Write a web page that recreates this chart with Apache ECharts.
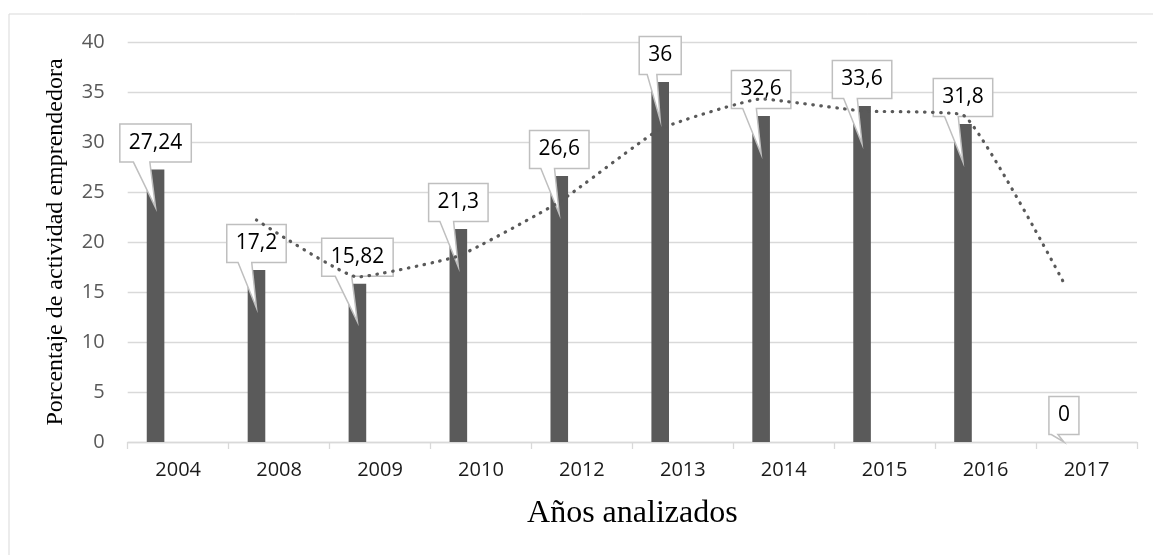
<!DOCTYPE html>
<html>
<head>
<meta charset="utf-8">
<script src="https://cdn.jsdelivr.net/npm/echarts@6/dist/echarts.min.js"></script>
<style>
html,body{margin:0;padding:0;background:#fff;}
#chart{width:1153px;height:555px;}
</style>
</head>
<body>
<div id="chart"></div>
<script>
// ---- data ----
var categories = ['2004','2008','2009','2010','2012','2013','2014','2015','2016','2017'];
var values = [27.24, 17.2, 15.82, 21.3, 26.6, 36, 32.6, 33.6, 31.8, 0];
// dotted trend line, null where it does not exist
var trend = [null, 22.2, 16.5, 18.6, 24.0, 31.3, 34.3, 33.1, 32.7, 15.9];
var yTicks = [0, 5, 10, 15, 20, 25, 30, 35, 40];
var yTitle = 'Porcentaje de actividad emprendedora';
var xTitle = 'Años analizados';

// ---- layout constants ----
var BAR_SHIFT = -0.224;   // bar sits left of the category centre (in category units)
var LABEL_FONT = "'Open Sans', sans-serif";
var LABEL_SIZE = 21;

function fmt(v){ return String(v).replace('.', ','); }

var measureCtx = document.createElement('canvas').getContext('2d');
function textWidth(t){
  measureCtx.font = LABEL_SIZE + 'px ' + LABEL_FONT;
  return measureCtx.measureText(t).width;
}

var barData = values.map(function(v,i){ return [i + BAR_SHIFT, v]; });
var trendData = [];
trend.forEach(function(v,i){ if (v !== null) trendData.push([i + BAR_SHIFT, v]); });

var chart = echarts.init(document.getElementById('chart'), null, {renderer:'canvas'});
chart.setOption({
  backgroundColor:'#ffffff',
  animation:false,
  graphic:[{
    type:'rect', left:8.5, top:13.5, z:-10,
    shape:{x:0,y:0,width:1170,height:570},
    style:{fill:'#ffffff', stroke:'#d9d9d9', lineWidth:1}
  }],
  grid:{left:127.7, right:16, top:42, bottom:113, containLabel:false},
  xAxis:[{
    type:'category', data:categories, boundaryGap:true,
    axisLine:{show:true, lineStyle:{color:'#d9d9d9', width:1.3}},
    axisTick:{show:true, length:7, lineStyle:{color:'#d9d9d9', width:1.3}},
    axisLabel:{color:'#1a1a1a', fontSize:20, fontFamily:LABEL_FONT, margin:18},
    splitLine:{show:false},
    name:xTitle, nameLocation:'middle', nameGap:56,
    nameTextStyle:{fontFamily:"'Liberation Serif', 'Times New Roman', serif", fontSize:32, color:'#000'}
  },{
    type:'value', min:-0.5, max:9.5, show:false
  }],
  yAxis:{
    type:'value', min:yTicks[0], max:yTicks[yTicks.length-1], interval:yTicks[1]-yTicks[0],
    axisLine:{show:false}, axisTick:{show:false},
    axisLabel:{color:'#595959', fontSize:20, fontFamily:LABEL_FONT, margin:23},
    splitLine:{lineStyle:{color:'#d9d9d9', width:1.3}},
    name:yTitle, nameLocation:'middle', nameGap:60, nameRotate:90,
    nameTextStyle:{fontFamily:"'Liberation Serif', 'Times New Roman', serif", fontSize:24, color:'#000'}
  },
  series:[{
    type:'bar', xAxisIndex:1, data:barData, barWidth:17.6,
    itemStyle:{color:'#5a5a5a'}, z:2, silent:true
  },{
    type:'custom', xAxisIndex:1, z:3, silent:true,
    data:barData,
    renderItem:function(params, api){
      var x = api.value(0), v = api.value(1);
      var topPt = api.coord([x, v]);
      var basePt = api.coord([x, 0]);
      var label = fmt(values[params.dataIndex]);
      var w = textWidth(label) + 18, h = 38;
      var cx = topPt[0];
      var B = topPt[1] - 7.5;
      var T = B - h;
      var L = cx - w/2, R = cx + w/2;
      var tipY = Math.min(topPt[1] + 38, basePt[1]);
      var short = (tipY - B) < 20;
      var b1 = L + w * (short ? 0.08 : 0.19);
      var b2 = L + w * (short ? 0.30 : 0.42);
      var pts = [[L,T],[R,T],[R,B],[b2,B],[cx,tipY],[b1,B],[L,B]];
      return {type:'group', children:[
        {type:'polygon', shape:{points:pts},
         style:{fill:'#ffffff', stroke:'#bfbfbf', lineWidth:1.5}},
        {type:'text', style:{text:label, x:cx, y:(T+B)/2, align:'center', verticalAlign:'middle',
          fontSize:LABEL_SIZE, fontFamily:LABEL_FONT, fill:'#000000'}}
      ]};
    }
  },{
    type:'line', xAxisIndex:1, data:trendData, smooth:0.12, symbol:'none', z:4, silent:true,
    lineStyle:{color:'#595959', width:3.2, type:[0.5, 7.5], cap:'round'}
  }]
});
</script>
</body>
</html>
